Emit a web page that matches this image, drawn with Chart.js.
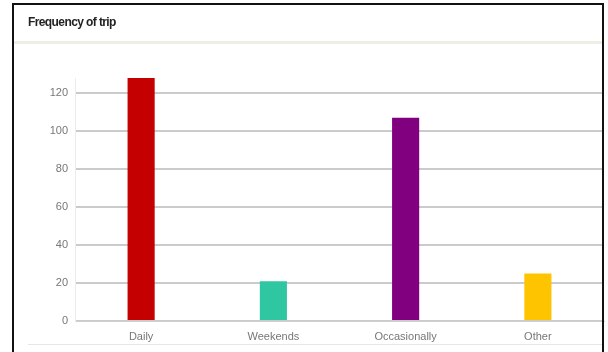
<!DOCTYPE html>
<html>
<head>
<meta charset="utf-8">
<script src="https://cdn.jsdelivr.net/npm/chart.js@4/dist/chart.umd.min.js"></script>
<style>
    html, body { margin: 0; padding: 0; background: #fff; }
    body { width: 608px; height: 352px; position: relative; overflow: hidden; }
    #chart { position: absolute; left: 0; top: 0; }
    .frame {
        position: absolute; left: 12px; top: 3px; width: 592px; height: 360px;
        border: 2px solid #111; box-sizing: border-box; pointer-events: none;
    }
    .title {
        position: absolute; left: 28px; top: 15px;
        font: bold 12px "Liberation Sans", Arial, sans-serif; letter-spacing: -0.6px; color: #222;
    }
    .sep { position: absolute; left: 14px; top: 41px; width: 588px; height: 3px; background: #eeeee6; }
    .foot { position: absolute; left: 28px; top: 344px; width: 574px; height: 1px; background: #e6e6e6; }
</style>
</head>
<body>
<canvas id="chart" width="608" height="352"></canvas>
<div class="sep"></div>
<div class="foot"></div>
<div class="title">Frequency of trip</div>
<div class="frame"></div>
<script>
// Data
const categories = ['Daily', 'Weekends', 'Occasionally', 'Other'];
const tripCounts = [128, 21, 107, 25];
const barColors = ['#c40000', '#2fc6a2', '#800080', '#ffc400'];
const yTicks = [0, 20, 40, 60, 80, 100, 120];

const ctx = document.getElementById('chart').getContext('2d');

let tripChart = new Chart(ctx, {
    type: 'bar',
    data: {
        labels: categories,
        datasets: [{
            data: tripCounts,
            backgroundColor: barColors,
            borderWidth: 0,
            categoryPercentage: 1,
            barPercentage: 0.205
        }]
    },
    options: {
        responsive: false,
        animation: false,
        layout: { padding: { top: 78, right: 4, left: 0, bottom: 0 } },
        plugins: {
            legend: { display: false },
            tooltip: { enabled: false }
        },
        scales: {
            x: {
                grid: { display: false, drawTicks: false },
                border: { color: '#cfcfcf', width: 1 },
                ticks: {
                    color: '#777',
                    font: { family: 'Liberation Sans, Arial, sans-serif', size: 11 },
                    padding: 9
                },
                afterFit: s => { s.height = 31; }
            },
            y: {
                min: 0,
                max: Math.max(...tripCounts),
                grid: { color: '#cbcbcb', lineWidth: 2, drawTicks: false },
                border: { color: '#ececec', width: 1 },
                ticks: {
                    color: '#777',
                    font: { family: 'Liberation Sans, Arial, sans-serif', size: 11 },
                    padding: 7
                },
                // only the round tick values get a line and a label
                afterBuildTicks: s => {
                    s.ticks = yTicks.map(v => ({ value: v }));
                },
                afterFit: s => { s.width = 75; }
            }
        }
    }
});
</script>
</body>
</html>
